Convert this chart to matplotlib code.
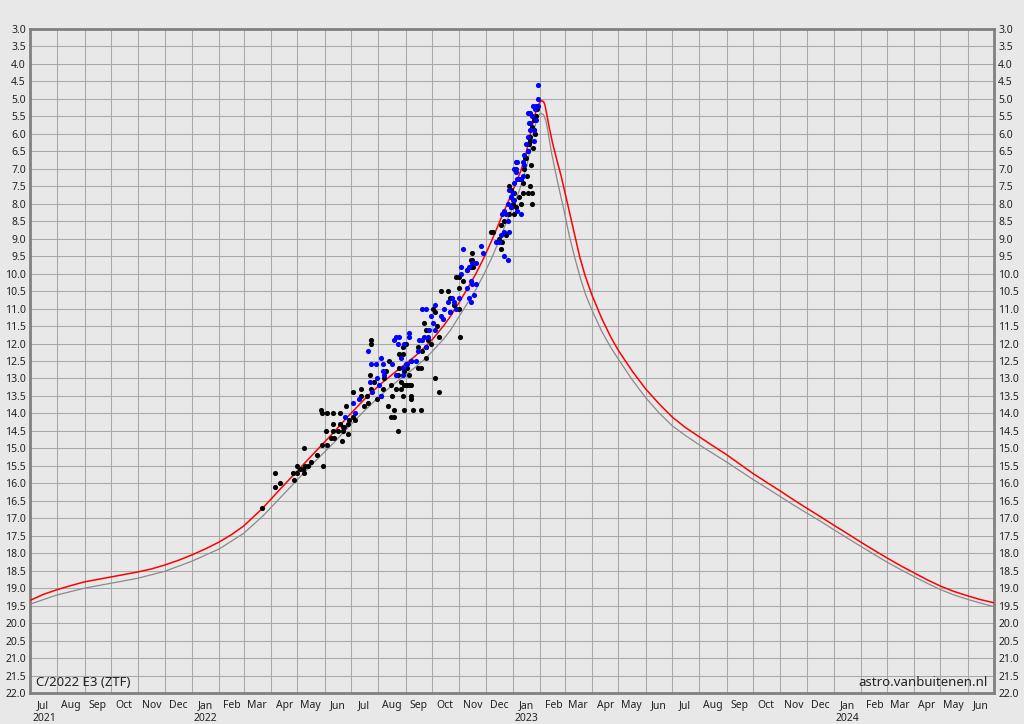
import numpy as np
import matplotlib
matplotlib.use("Agg")
import matplotlib.pyplot as plt
import matplotlib.dates as mdates
from matplotlib.ticker import FormatStrFormatter, NullFormatter

plt.rcParams['font.family'] = ['Noto Sans', 'DejaVu Sans']

# Comet C/2022 E3 (ZTF), times in days relative to perihelion (2023-01-12)
perihelion = np.datetime64('2023-01-12')

# model curves (red = current fit, gray = older fit)
red_t = [-559, -545, -530, -514, -498, -483, -468, -453, -438, -422, -407, -391, -376,
         -360, -345, -331, -317, -295, -275, -255, -235, -215, -199, -180, -161, -142,
         -123, -110, -101, -90, -82, -72, -62, -53, -44, -35, -25, -16, -9, -2, 2, 5, 8,
         11, 14, 17, 19.5, 21.6, 23.9, 25.4, 27.3, 30.2, 34, 39, 44, 48.4, 52.6, 56.8,
         60.8, 64.8, 71, 79, 90, 100, 109, 125, 140, 155, 170, 185, 201, 216, 232, 247,
         262, 278, 293, 308, 323, 339, 354, 370, 385, 400, 414, 430, 445, 460, 475, 490,
         506, 521, 536]
red_mag = [19.34, 19.18, 19.05, 18.93, 18.82, 18.75, 18.68, 18.61, 18.54, 18.45, 18.34,
           18.2, 18.05, 17.87, 17.68, 17.47, 17.22, 16.70, 16.15, 15.62, 15.08, 14.55,
           14.10, 13.60, 13.15, 12.76, 12.38, 12.08, 11.84, 11.50, 11.22, 10.82, 10.40,
           10.0, 9.55, 9.05, 8.45, 7.92, 7.5, 7.06, 6.74, 6.45, 6.1, 5.76, 5.46, 5.23,
           5.1, 5.05, 5.08, 5.17, 5.41, 5.80, 6.25, 6.75, 7.22, 7.70, 8.16, 8.62, 9.06,
           9.5, 10.05, 10.62, 11.28, 11.8, 12.2, 12.8, 13.3, 13.72, 14.1, 14.4, 14.67,
           14.92, 15.18, 15.45, 15.72, 15.98, 16.22, 16.47, 16.71, 16.96, 17.2, 17.45,
           17.69, 17.92, 18.13, 18.36, 18.56, 18.76, 18.94, 19.09, 19.22, 19.33, 19.42]

gray_t = [-559, -530, -498, -468, -438, -407, -376, -345, -317, -295, -275, -255, -235,
          -215, -199, -180, -161, -142, -123, -110, -101, -90, -82, -72, -62, -53, -44,
          -35, -25, -16, -9, -2, 2, 5, 9, 13, 15, 17, 19, 21, 24, 26.5, 29, 33, 40, 47,
          53, 59.4, 66, 72, 79, 90, 100, 109, 125, 140, 155, 170, 185, 201, 216, 232, 247,
          262, 278, 293, 308, 323, 339, 354, 370, 385, 400, 414, 430, 445, 460, 475, 490,
          506, 521, 536]
gray_mag = [19.45, 19.2, 19.0, 18.86, 18.72, 18.52, 18.23, 17.88, 17.43, 16.93, 16.4,
            15.87, 15.35, 14.85, 14.42, 13.93, 13.47, 13.07, 12.7, 12.42, 12.18, 11.88,
            11.62, 11.22, 10.82, 10.45, 10.02, 9.55, 8.95, 8.38, 7.98, 7.5, 7.15, 6.9, 6.4,
            5.9, 5.7, 5.55, 5.45, 5.41, 5.46, 5.62, 5.95, 6.55, 7.4, 8.18, 8.9, 9.55, 10.15,
            10.62, 11.05, 11.65, 12.1, 12.45, 13.05, 13.55, 13.98, 14.35, 14.63, 14.9,
            15.14, 15.39, 15.64, 15.89, 16.14, 16.38, 16.62, 16.85, 17.09, 17.33, 17.58,
            17.81, 18.04, 18.25, 18.47, 18.67, 18.86, 19.04, 19.19, 19.32, 19.43, 19.53]

# visual observations (black)
black_t = [-296, -282, -282, -276, -261, -260, -256, -256, -253, -250, -247, -244, -248,
           -241, -248, -234, -227, -228, -222, -223, -218, -214, -215, -205, -204, -199,
           -229, -228, -222, -216, -207, -208, -204, -199, -201, -193, -193, -184, -177,
           -216, -210, -203, -197, -191, -184, -180, -176, -174, -172, -172, -172, -169,
           -165, -161, -159, -157, -155, -153, -152, -150, -148, -146, -144, -150, -146,
           -142, -140, -136, -140, -138, -136, -135, -133, -131, -129, -127, -125, -133,
           -116, -119, -142, -136, -127, -135, -129, -119, -116, -114, -110, -110, -112,
           -110, -108, -104, -102, -100, -99, -97, -95, -95, -93, -85, -83, -78, -76, -72,
           -72, -71, -68, -63, -59, -57, -57, -131, -135, -127, -127, -138, -72, -59, -56,
           -36, -34, -27, -25, -23, -25, -19, -21, -15, -11, -8, -4, -15, -13, -10, 0, 6,
           9, 11, -2, -13, -10, 2, 4, 6, 7, 9, 11, 13, 15, 16, 11, -2, 3, 8, 13, 10, 12,
           14, 1, 5]
black_mag = [16.7, 15.7, 16.1, 16.0, 15.7, 15.9, 15.5, 15.7, 15.6, 15.6, 15.5, 15.5, 15.7,
             15.4, 15.0, 15.2, 15.5, 14.9, 14.9, 14.5, 14.7, 14.7, 14.3, 14.8, 14.5, 14.6,
             13.9, 14.0, 14.0, 14.0, 14.0, 14.3, 14.4, 14.3, 13.8, 14.1, 13.4, 13.5, 13.5,
             14.5, 14.5, 14.4, 14.2, 14.2, 13.3, 13.8, 13.7, 12.9, 13.3, 11.9, 12.0, 13.1,
             13.6, 13.5, 13.3, 13.0, 12.8, 13.8, 12.5, 13.2, 13.5, 13.9, 13.3, 14.1, 14.1,
             14.5, 12.3, 12.3, 12.7, 13.1, 13.5, 13.9, 13.2, 12.7, 13.2, 13.6, 13.9, 12.0,
             13.9, 12.7, 12.9, 12.1, 12.5, 12.8, 12.9, 12.1, 12.7, 12.2, 12.1, 12.4, 11.4,
             11.6, 11.9, 12.0, 11.0, 11.1, 13.0, 11.5, 13.4, 11.8, 10.5, 10.5, 10.7, 10.9,
             10.1, 10.4, 11.0, 11.8, 10.2, 9.9, 9.8, 9.4, 9.6, 13.2, 13.2, 13.2, 13.5, 13.3,
             10.1, 9.6, 9.8, 8.8, 8.8, 9.0, 8.6, 9.1, 9.3, 8.9, 8.5, 8.3, 8.0, 8.1, 7.8, 7.5,
             7.6, 7.7, 7.7, 7.7, 7.5, 8.0, 8.0, 8.1, 8.3, 7.0, 6.7, 6.5, 6.3, 6.1, 5.8, 5.6,
             5.5, 5.3, 7.7, 7.3, 6.7, 6.2, 5.9, 6.9, 6.4, 6.0, 7.4, 7.2]

# CCD / other observations (blue)
blue_t = [-202, -193, -191, -186, -176, -174, -172, -171, -167, -165, -163, -161, -159,
          -159, -157, -161, -146, -144, -140, -142, -148, -144, -138, -136, -135, -129,
          -129, -132, -127, -121, -119, -118, -131, -136, -114, -112, -108, -110, -106,
          -114, -110, -104, -102, -100, -99, -93, -91, -89, -85, -83, -82, -80, -78, -76,
          -72, -70, -70, -68, -63, -61, -59, -57, -55, -63, -61, -57, -53, -59, -53, -47,
          -45, -21, -17, -30, -27, -25, -21, -23, -21, -17, -15, -13, -13, -11, -10, -8,
          -6, -10, -6, -4, 17, 17, 15, 6, 9, 11, 7, 9, 6, 4, 6, 2, 0, 2, -8, -10, -8, -6,
          -2, 0, -15, -13, -11, -17, -19, -2, 9, 13, 15, 13, 14, 17, 12]
blue_mag = [14.1, 13.7, 14.0, 13.6, 12.2, 13.1, 12.6, 13.4, 12.6, 13.0, 13.2, 12.4, 12.6,
            12.8, 12.9, 13.5, 11.9, 11.8, 11.8, 12.0, 12.6, 12.9, 12.4, 12.9, 12.0, 11.7,
            11.8, 12.6, 12.5, 12.5, 12.2, 11.9, 12.6, 12.7, 11.9, 11.8, 11.8, 12.1, 11.6,
            11.0, 11.0, 11.2, 11.4, 11.6, 10.9, 11.2, 11.3, 11.0, 10.8, 11.1, 11.1, 10.7,
            10.8, 11.0, 10.7, 9.8, 10.0, 9.3, 10.4, 10.7, 10.8, 10.3, 10.6, 9.9, 9.8, 9.7,
            9.7, 10.2, 10.3, 9.2, 9.4, 9.5, 9.6, 9.1, 9.1, 8.9, 8.8, 8.3, 8.2, 8.5, 8.8,
            8.1, 7.8, 7.7, 7.4, 7.0, 6.8, 7.9, 8.2, 7.3, 4.6, 5.0, 5.2, 5.4, 5.4, 5.5, 5.7,
            5.9, 6.1, 6.3, 6.5, 6.6, 6.8, 6.9, 6.8, 7.0, 7.1, 7.3, 7.3, 7.2, 7.6, 7.8, 7.9,
            8.0, 8.3, 8.3, 5.7, 5.9, 5.6, 6.2, 5.3, 5.2, 5.2]

year_labels = ['2021', '2022', '2023', '2024']
year_starts = ['2021-07-01', '2022-01-01', '2023-01-01', '2024-01-01']
x_start, x_end = '2021-07-01', '2024-07-01'


def to_num(days):
    return mdates.date2num(perihelion) + np.asarray(days, dtype=float)


bg = '#e8e8e8'
fig = plt.figure(figsize=(10.24, 7.24), dpi=100, facecolor=bg)
ax = fig.add_axes([30 / 1024, 31 / 724, 964 / 1024, 664 / 724], facecolor=bg)

ax.plot(to_num(gray_t), gray_mag, color='#8a8a8a', lw=0.9, zorder=3)
ax.plot(to_num(red_t), red_mag, color='#ff0000', lw=1.1, zorder=3)
ax.plot(to_num(black_t), black_mag, 'o', color='black', ms=3.7, mew=0, zorder=4)
ax.plot(to_num(blue_t), blue_mag, 'o', color='#0000ff', ms=3.7, mew=0, zorder=5)

ax.set_xlim(mdates.date2num(np.datetime64(x_start)), mdates.date2num(np.datetime64(x_end)))
ax.set_ylim(22, 3)

ax.set_yticks(np.arange(3, 22.01, 0.5))
ax.yaxis.set_major_formatter(FormatStrFormatter('%.1f'))
ax.tick_params(axis='y', which='both', length=0, labelsize=7.5, pad=3,
               labelleft=True, labelright=True, labelcolor='#222222')

ax.xaxis.set_major_locator(mdates.MonthLocator())
ax.xaxis.set_major_formatter(NullFormatter())
ax.xaxis.set_minor_locator(mdates.MonthLocator(bymonthday=16))
ax.xaxis.set_minor_formatter(mdates.DateFormatter('%b'))
ax.tick_params(axis='x', which='both', length=0, labelsize=7.5, pad=5, labelcolor='#222222')

ax.grid(True, which='major', color='#a8a8a8', lw=0.75)
ax.set_axisbelow(True)
for sp in ax.spines.values():
    sp.set_color('#808080')
    sp.set_linewidth(2)

for label, start in zip(year_labels, year_starts):
    ax.annotate(label, xy=(mdates.date2num(np.datetime64(start)), 0),
                xycoords=('data', 'axes fraction'), xytext=(1.5, -14.5),
                textcoords='offset points', ha='left', va='top', fontsize=7.5,
                color='#222222')

ax.text(0.006, 0.006, 'C/2022 E3 (ZTF)', transform=ax.transAxes, ha='left',
        va='bottom', fontsize=9.5, color='#222222')
ax.text(0.994, 0.006, 'astro.vanbuitenen.nl', transform=ax.transAxes, ha='right',
        va='bottom', fontsize=9.5, color='#222222')

fig.savefig('out.png', dpi=100, facecolor=bg)
